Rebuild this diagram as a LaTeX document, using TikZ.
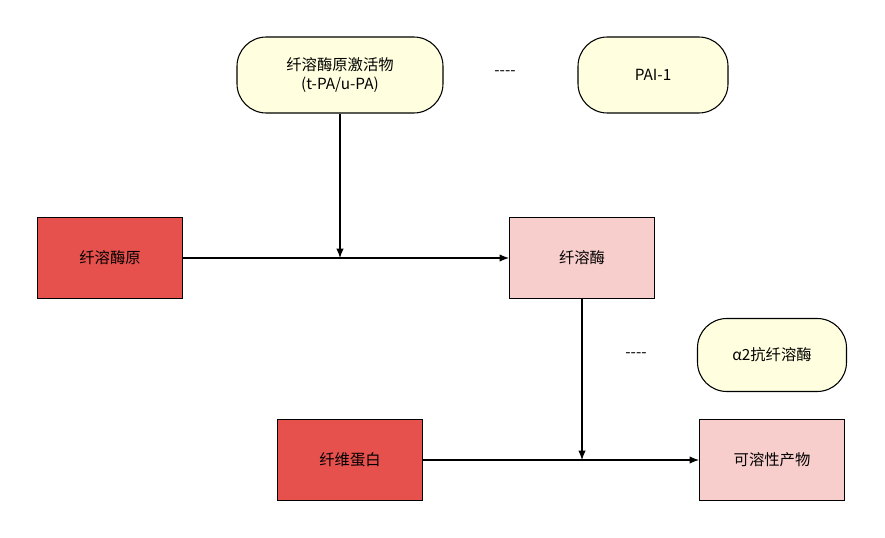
\documentclass[tikz,border=0pt]{standalone}
\usepackage{fontspec}
\setmainfont{Noto Sans CJK SC}
\usetikzlibrary{positioning,arrows.meta}
\definecolor{redfill}{HTML}{E6504D}
\definecolor{pinkfill}{HTML}{F8CECC}
\definecolor{creamfill}{HTML}{FFFFE0}
\tikzset{
  label font/.style={font=\fontsize{11.5}{14}\selectfont},
  box/.style={draw,thick,minimum width=108.75pt,minimum height=60.75pt,label font},
  pill/.style={draw,thick,rounded corners=22pt,fill=creamfill,label font,align=center},
  link/.style={-{Latex[length=7pt,width=5.5pt]},thick}
}
\begin{document}
\begin{tikzpicture}[x=0.75pt,y=-0.75pt]
\useasboundingbox (0,0) rectangle (885,538);
\node[pill,minimum width=154.5pt,minimum height=57pt] (activator) at (340,75) {纤溶酶原激活物\\(t-PA/u-PA)};
\node[pill,minimum width=112.5pt,minimum height=57pt] (pai) at (653,75) {PAI-1};
\node[pill,minimum width=111.75pt,minimum height=54.75pt] (antiplasmin) at (772,355) {α2抗纤溶酶};
\node[label font] at (505,73) {-{}-{}-{}-};
\node[label font] at (636,355) {-{}-{}-{}-};

\node[box,fill=redfill] (plasminogen) at (110,258) {纤溶酶原};
\node[box,fill=pinkfill] (plasmin) at (582,258) {纤溶酶};
\node[box,fill=redfill] (fibrin) at (350,460) {纤维蛋白};
\node[box,fill=pinkfill] (products) at (772,460) {可溶性产物};

\draw[link] (plasminogen) -- (plasmin);
\coordinate (join1) at (activator.south |- plasmin);
\draw[link] (activator) -- (join1);
\draw[link] (fibrin) -- (products);
\coordinate (join2) at (plasmin.south |- products);
\draw[link] (plasmin) -- (join2);
\end{tikzpicture}
\end{document}
